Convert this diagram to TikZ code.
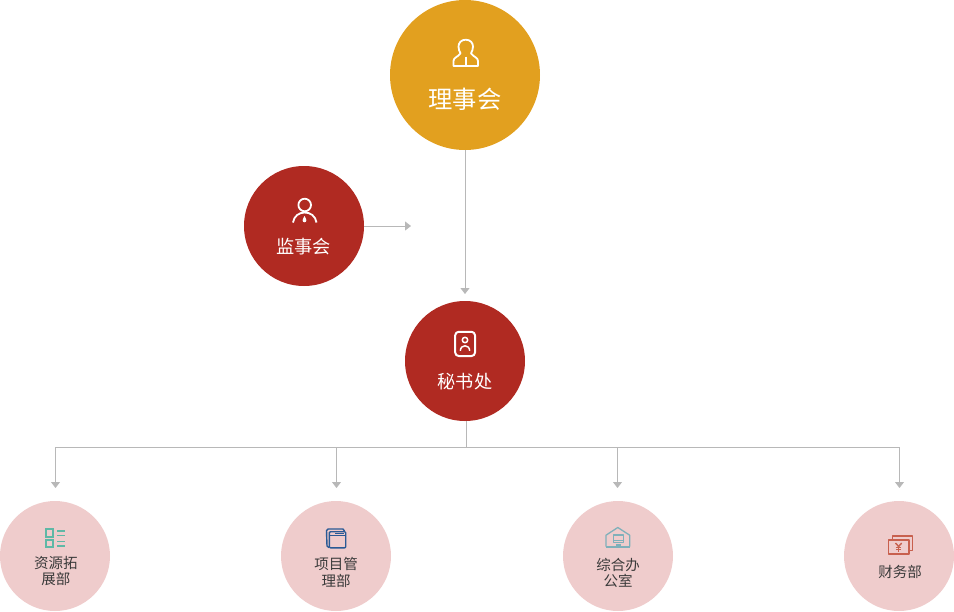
\documentclass[tikz,border=0pt]{standalone}
\usepackage{fontspec}
\setmainfont{Noto Sans CJK SC}
\usetikzlibrary{arrows.meta}
\definecolor{gold}{HTML}{E2A01F}
\definecolor{brick}{HTML}{B02A22}
\definecolor{blush}{HTML}{EFCCCC}
\definecolor{conn}{HTML}{B8B8B8}
\definecolor{tealic}{HTML}{5FB8A6}
\definecolor{blueic}{HTML}{2A5A95}
\definecolor{houseic}{HTML}{7FB0BA}
\definecolor{moneyic}{HTML}{C8604E}
\definecolor{ink}{HTML}{3A3A3A}
\tikzset{
  bigc/.style={circle,fill=gold,minimum size=150pt,inner sep=0pt},
  midc/.style={circle,fill=brick,minimum size=120pt,inner sep=0pt},
  lowc/.style={circle,fill=blush,minimum size=110pt,inner sep=0pt},
  bigt/.style={text=white,font=\fontsize{24.3}{24}\selectfont,inner sep=0pt},
  midt/.style={text=white,font=\fontsize{18.2}{18}\selectfont,inner sep=0pt},
  lowt/.style={text=ink,font=\fontsize{14.5}{16}\selectfont,inner sep=0pt,align=center},
  conline/.style={draw=conn,line width=0.9pt},
  arr/.style={conline,-{Triangle[length=6pt,width=9pt,fill=conn]}},
  icw/.style={draw=white,line width=1.8pt,line join=round},
}
\begin{document}
\begin{tikzpicture}[x=1pt,y=-1pt]
\useasboundingbox (0,0) rectangle (954,611);
% circles
\node[bigc] (board) at (465,75) {};
\node[midc] (super) at (304,226) {};
\node[midc] (sec) at (465,361) {};
\node[lowc] (res) at (55,556) {};
\node[lowc] (proj) at (336,556) {};
\node[lowc] (off) at (618,556) {};
\node[lowc] (fin) at (899,556) {};
% labels
\node[bigt] (boardt) at (465,99) {理事会};
\node[midt] (supert) at (303.5,247) {监事会};
\node[midt] (sect) at (465,382) {秘书处};
\node[lowt] (rest) at (56,571) {资源拓\\展部};
\node[lowt] (projt) at (336,572.5) {项目管\\[1.5pt]理部};
\node[lowt] (offt) at (618,572.5) {综合办\\公室};
\node[lowt] (fint) at (900,572) {财务部};
% connector ends
\coordinate (tosec) at (465,294);
\coordinate (tomain) at (411,226);
\coordinate (secout) at (466,421);
\coordinate (junc) at (466,447);
\coordinate (b1) at (55.5,447);
\coordinate (b2) at (336.5,447);
\coordinate (b3) at (617.5,447);
\coordinate (b4) at (899.5,447);
\coordinate (e1) at (55.5,488);
\coordinate (e2) at (336.5,488);
\coordinate (e3) at (617.5,488);
\coordinate (e4) at (899.5,488);
% connectors
\draw[arr] (board.south) -- (tosec);
\draw[arr] (super.east) -- (tomain);
\draw[conline] (secout) -- (junc);
\draw[conline] (b1) -- (b4);
\draw[arr] (b1) -- (e1);
\draw[arr] (b2) -- (e2);
\draw[arr] (b3) -- (e3);
\draw[arr] (b4) -- (e4);
% icon: board
\draw[icw] (465.7,39.7) .. controls (461,39.7) and (458.5,43) .. (458.5,46.7)
  .. controls (458.5,49.5) and (459.5,51.5) .. (460.5,53.3)
  .. controls (458,57) and (453.5,57.5) .. (453.5,61) -- (453.5,66) -- (478,66) -- (478,61)
  .. controls (478,57.5) and (473.5,57) .. (471,53.3)
  .. controls (472,51.5) and (473,49.5) .. (473,46.7)
  .. controls (473,43) and (470.5,39.7) .. (465.7,39.7) -- cycle;
\draw[draw=white,line width=1.8pt] (465.7,56.5) -- (465.7,64.5);
% icon: supervisors
\draw[icw] (304.7,205) circle[radius=6.3];
\draw[icw] (293,222.5) .. controls (294,216) and (299,212.5) .. (304.7,212.5)
  .. controls (310.5,212.5) and (315.5,216) .. (316.5,222.5);
\fill[white] (304.5,216) .. controls (303.5,218) and (302.6,219) .. (302.6,220.3)
  .. controls (302.6,221.5) and (303.5,222.3) .. (304.5,222.3)
  .. controls (305.5,222.3) and (306.4,221.5) .. (306.4,220.3)
  .. controls (306.4,219) and (305.5,218) .. (304.5,216) -- cycle;
% icon: secretariat
\draw[icw,line width=2pt,rounded corners=3.5pt] (455.2,331.8) rectangle (475,356);
\draw[icw,line width=1.5pt] (465,340) circle[radius=2.7];
\draw[icw,line width=1.5pt] (460.3,350.8) .. controls (460.5,347.5) and (462.5,345.8) .. (465,345.8)
  .. controls (467.5,345.8) and (469.5,347.5) .. (469.7,350.8);
% icon: resources
\begin{scope}[draw=tealic,line width=1.9pt]
\draw (46,529.2) rectangle (53.3,536.6);
\draw (46,540) rectangle (53.3,547.3);
\draw[line width=1.6pt] (57.3,531) -- (65,531);
\draw[line width=1.6pt] (57.3,535.5) -- (65,535.5);
\draw[line width=1.6pt] (57.3,541.5) -- (65,541.5);
\draw[line width=1.6pt] (57.3,545.7) -- (65,545.7);
\end{scope}
% icon: projects
\begin{scope}[draw=blueic,line width=1.4pt,line join=round]
\draw (329,547.5) -- (327,546) -- (326.5,530.5) -- (328,529) -- (343,529) -- (344.5,531);
\draw[rounded corners=1pt,fill=blush] (329.3,531.7) rectangle (345.7,547.8);
\draw[line width=1pt] (329.3,535.4) -- (345.7,535.4);
\draw[line width=1pt] (335,533.4) -- (344,533.4);
\end{scope}
% icon: office
\begin{scope}[draw=houseic,line width=1.3pt,line join=round]
\draw (606,546.5) -- (606,535.2) -- (617.8,527.5) -- (629.7,535.2) -- (629.7,546.5);
\draw (606,547) -- (629.7,547);
\draw[line width=1.3pt] (613.5,535) rectangle (623.3,542.5);
\draw (613.5,540.5) -- (623.3,540.5);
\draw (616.2,545) -- (620.5,545);
\end{scope}
% icon: finance
\begin{scope}[draw=moneyic,line width=1.4pt,line join=round]
\draw (888.5,540) rectangle (909,554);
\draw (892.3,539.5) -- (892.3,536) -- (912.5,536) -- (912.5,550.5) -- (909.5,550.5);
\draw (895.5,543) -- (898.6,546.5) -- (901.7,543);
\draw (898.6,546.5) -- (898.6,551.5);
\draw (895.8,547.3) -- (901.4,547.3);
\draw (895.8,549.6) -- (901.4,549.6);
\end{scope}
\end{tikzpicture}
\end{document}
